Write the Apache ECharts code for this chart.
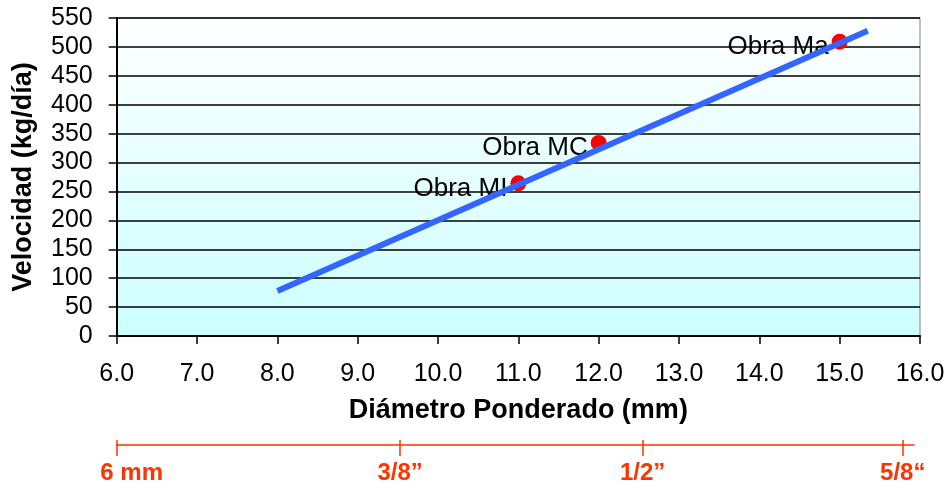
<!DOCTYPE html>
<html>
<head>
<meta charset="utf-8">
<script src="https://cdn.jsdelivr.net/npm/echarts@6/dist/echarts.min.js"></script>
<style>html,body{margin:0;padding:0;background:#fff}#c{width:948px;height:484px}</style>
</head>
<body>
<div id="c"></div>
<script>
// Data
var pointNames = ['Obra MI', 'Obra MC', 'Obra Ma'];
var pointX = [11.0, 12.0, 15.0];
var pointY = [264, 334, 509];
var trendX = [8.0, 15.35];
var trendY = [78, 528];
var inchTickValues = [6, 9.53, 12.55, 15.79];
var inchTickLabels = ['6 mm', '3/8\u201d', '1/2\u201d', '5/8\u201c'];

var FONT = 'Liberation Sans, Arial, sans-serif';
var chart = echarts.init(document.getElementById('c'));

var scatterData = pointNames.map(function (n, i) { return { name: n, value: [pointX[i], pointY[i]] }; });
var trendData = trendX.map(function (x, i) { return [x, trendY[i]]; });

chart.setOption({
  animation: false,
  grid: [
    { left: 116.7, right: 28, top: 18, bottom: 148, show: true, borderColor: '#808080', borderWidth: 1,
      backgroundColor: { type: 'linear', x: 0, y: 0, x2: 0, y2: 1,
        colorStops: [{ offset: 0, color: '#ffffff' }, { offset: 1, color: '#ccffff' }] } },
    { left: 116.7, right: 34, top: 445, height: 0 }
  ],
  xAxis: [
    { type: 'value', gridIndex: 0, min: 6, max: 16, interval: 1,
      axisLine: { show: true, onZero: false, lineStyle: { color: '#000', width: 2 } },
      axisTick: { show: true, length: 8, lineStyle: { color: '#000', width: 1.5 } },
      splitLine: { show: false },
      axisLabel: { margin: 26, color: '#000', fontFamily: FONT, fontSize: 25,
        formatter: function (v) { return v.toFixed(1); } },
      name: 'Diámetro Ponderado (mm)', nameLocation: 'middle', nameGap: 61,
      nameTextStyle: { color: '#000', fontFamily: FONT, fontSize: 27, fontWeight: 'bold' } },
    { type: 'value', gridIndex: 1, min: 6, max: 15.93, position: 'bottom',
      axisLine: { show: true, onZero: false, lineStyle: { color: '#ff3300', width: 1.5 } },
      axisTick: { show: true, length: 11, customValues: inchTickValues, lineStyle: { color: '#ff3300', width: 1.5 } },
      splitLine: { show: false },
      axisLabel: { show: true, margin: 16, customValues: inchTickValues,
        color: '#ff3300', fontFamily: FONT, fontSize: 24, fontWeight: 'bold',
        formatter: function (v) {
          var i = inchTickValues.indexOf(v);
          var t = i >= 0 ? inchTickLabels[i] : '';
          return i === 0 ? '{a|' + t + '}' : t;
        },
        rich: { a: { padding: [0, 0, 0, 30], color: '#ff3300', fontFamily: FONT, fontSize: 24, fontWeight: 'bold' } } } },
    { type: 'value', gridIndex: 1, min: 6, max: 15.93, position: 'top',
      axisLine: { show: false },
      axisTick: { show: true, length: 5, customValues: inchTickValues, lineStyle: { color: '#ff3300', width: 1.5 } },
      splitLine: { show: false }, axisLabel: { show: false } }
  ],
  yAxis: [
    { type: 'value', gridIndex: 0, min: 0, max: 550, interval: 50,
      axisLine: { show: true, onZero: false, lineStyle: { color: '#000', width: 2 } },
      axisTick: { show: true, length: 8, lineStyle: { color: '#000', width: 1.5 } },
      splitLine: { show: true, lineStyle: { color: '#000', width: 1.5 } },
      axisLabel: { margin: 24, color: '#000', fontFamily: FONT, fontSize: 25 },
      name: 'Velocidad (kg/día)', nameLocation: 'middle', nameGap: 80,
      nameTextStyle: { color: '#000', fontFamily: FONT, fontSize: 27, fontWeight: 'bold' } },
    { type: 'value', gridIndex: 1, show: false }
  ],
  series: [
    { type: 'scatter', xAxisIndex: 0, yAxisIndex: 0, data: scatterData, symbol: 'circle', symbolSize: 16,
      itemStyle: { color: '#ff0000', opacity: 1 }, z: 3,
      label: { show: true, position: 'left', distance: 3, offset: [0, 5], formatter: '{b}',
        color: '#000000', textBorderWidth: 0, textBorderColor: 'transparent', opacity: 1,
        fontFamily: FONT, fontSize: 26 } },
    { type: 'line', xAxisIndex: 0, yAxisIndex: 0, data: trendData, symbol: 'none', z: 4,
      lineStyle: { color: '#3366ff', width: 6, cap: 'butt' } }
  ]
});
</script>
</body>
</html>
